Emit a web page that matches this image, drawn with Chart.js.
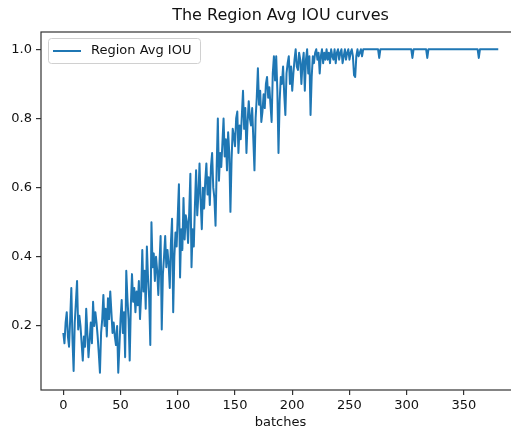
<!DOCTYPE html>
<html>
<head>
<meta charset="utf-8">
<script src="https://cdn.jsdelivr.net/npm/chart.js@4.4.0/dist/chart.umd.min.js"></script>
<style>
  html, body { margin: 0; padding: 0; background: #fff; overflow: hidden; }
  #wrap { width: 560px; height: 430px; }
</style>
</head>
<body>
<div id="wrap"><canvas id="c" width="560" height="430"></canvas></div>
<script>
// ---- data ----
const chartTitle = "The Region Avg IOU curves";
const seriesName = "Region Avg IOU";
const xAxisTitle = "batches";
const xTicks = [0, 50, 100, 150, 200, 250, 300, 350];
const yTicks = [0.2, 0.4, 0.6, 0.8, 1.0];

const iouValues = [
  0.18, 0.15, 0.21, 0.24, 0.17, 0.14, 0.22, 0.31, 0.16, 0.07,
  0.21, 0.27, 0.33, 0.19, 0.23, 0.20, 0.15, 0.10, 0.17, 0.14,
  0.25, 0.18, 0.11, 0.16, 0.21, 0.15, 0.27, 0.20, 0.24, 0.21,
  0.17, 0.12, 0.065, 0.18, 0.22, 0.29, 0.20, 0.25, 0.17, 0.28,
  0.22, 0.30, 0.24, 0.18, 0.21, 0.17, 0.145, 0.20, 0.065, 0.14,
  0.22, 0.275, 0.18, 0.24, 0.11, 0.36, 0.28, 0.22, 0.10, 0.26,
  0.35, 0.27, 0.31, 0.24, 0.30, 0.26, 0.33, 0.22, 0.29, 0.42,
  0.30, 0.36, 0.25, 0.43, 0.34, 0.28, 0.145, 0.50, 0.37, 0.41,
  0.33, 0.40, 0.36, 0.29, 0.38, 0.46, 0.19, 0.35, 0.40, 0.46,
  0.37, 0.42, 0.38, 0.31, 0.44, 0.51, 0.24, 0.40, 0.47, 0.43,
  0.52, 0.61, 0.34, 0.48, 0.42, 0.57, 0.45, 0.52, 0.50, 0.44,
  0.53, 0.64, 0.37, 0.48, 0.43, 0.55, 0.65, 0.52, 0.58, 0.67,
  0.56, 0.48, 0.60, 0.54, 0.62, 0.67, 0.58, 0.63, 0.55, 0.66,
  0.70, 0.60, 0.57, 0.49, 0.66, 0.80, 0.62, 0.70, 0.66, 0.73,
  0.80, 0.69, 0.74, 0.65, 0.76, 0.70, 0.53, 0.68, 0.77, 0.75,
  0.72, 0.80, 0.82, 0.70, 0.78, 0.74, 0.81, 0.88, 0.77, 0.83,
  0.70, 0.79, 0.85, 0.80, 0.78, 0.83, 0.74, 0.65, 0.80, 0.86,
  0.945, 0.84, 0.88, 0.79, 0.82, 0.87, 0.83, 0.90, 0.92, 0.86,
  0.89, 0.84, 0.79, 0.93, 0.98, 0.91, 0.98, 0.88, 0.70, 0.85,
  0.92, 0.90, 0.95, 0.87, 0.81, 0.93, 0.96, 0.98, 0.90, 0.95,
  0.88, 0.93, 0.97, 1.0, 0.95, 0.94, 0.99, 0.97, 0.90, 0.96,
  0.99, 0.88, 0.97, 1.0, 0.93, 0.98, 0.81, 0.92, 0.98, 0.96,
  0.99, 1.0, 0.97, 0.99, 0.93, 0.98, 1.0, 0.96, 0.99, 0.97,
  1.0, 0.97, 0.99, 0.96, 1.0, 0.98, 0.97, 1.0, 0.96, 0.99,
  1.0, 0.97, 0.99, 1.0, 0.96, 0.98, 1.0, 0.97, 0.99, 1.0,
  0.97, 0.99, 1.0, 0.98, 0.925, 0.92, 0.98, 1.0, 0.98, 0.99,
  1.0, 0.98, 1.0, 1.0, 1.0, 1.0, 1.0, 1.0, 1.0, 1.0,
  1.0, 1.0, 1.0, 1.0, 1.0, 1.0, 0.975, 1.0, 1.0, 1.0,
  1.0, 1.0, 1.0, 1.0, 1.0, 1.0, 1.0, 1.0, 1.0, 1.0,
  1.0, 1.0, 1.0, 1.0, 1.0, 1.0, 1.0, 1.0, 1.0, 1.0,
  1.0, 1.0, 1.0, 1.0, 1.0, 0.975, 1.0, 1.0, 1.0, 1.0,
  1.0, 1.0, 1.0, 1.0, 1.0, 1.0, 1.0, 1.0, 0.975, 1.0,
  1.0, 1.0, 1.0, 1.0, 1.0, 1.0, 1.0, 1.0, 1.0, 1.0,
  1.0, 1.0, 1.0, 1.0, 1.0, 1.0, 1.0, 1.0, 1.0, 1.0,
  1.0, 1.0, 1.0, 1.0, 1.0, 1.0, 1.0, 1.0, 1.0, 1.0,
  1.0, 1.0, 1.0, 1.0, 1.0, 1.0, 1.0, 1.0, 1.0, 1.0,
  1.0, 1.0, 1.0, 0.975, 1.0, 1.0, 1.0, 1.0, 1.0, 1.0,
  1.0, 1.0, 1.0, 1.0, 1.0, 1.0, 1.0, 1.0, 1.0, 1.0,
  1.0
];

// ---- chart ----
const FONT = "'DejaVu Sans', sans-serif";
const LINE_COLOR = '#1f77b4';
const AXIS_COLOR = '#333333';

const points = iouValues.map((v, i) => ({ x: i, y: v }));

const framePlugin = {
  id: 'frame',
  afterDraw(chart) {
    const { ctx, chartArea: a } = chart;
    ctx.save();
    // title centred over the axes
    ctx.fillStyle = '#111';
    ctx.font = '16px ' + FONT;
    ctx.textAlign = 'center';
    ctx.textBaseline = 'middle';
    ctx.fillText(chartTitle, (a.left + a.right) / 2, 15.5);
    // axes frame (four spines)
    ctx.strokeStyle = AXIS_COLOR;
    ctx.lineWidth = 1.2;
    ctx.strokeRect(a.left, a.top, a.right - a.left, a.bottom - a.top);
    // legend inside the axes (upper left)
    const bx = a.left + 7, by = a.top + 6, bw = 152, bh = 25;
    ctx.fillStyle = 'rgba(255,255,255,0.85)';
    ctx.strokeStyle = '#d0d0d0';
    ctx.lineWidth = 1;
    ctx.beginPath();
    if (ctx.roundRect) ctx.roundRect(bx + 0.5, by + 0.5, bw, bh, 3); else ctx.rect(bx + 0.5, by + 0.5, bw, bh);
    ctx.fill();
    ctx.stroke();
    const ly = by + bh / 2 + 0.5;
    ctx.strokeStyle = LINE_COLOR;
    ctx.lineWidth = 2;
    ctx.beginPath();
    ctx.moveTo(bx + 5, ly);
    ctx.lineTo(bx + 33, ly);
    ctx.stroke();
    ctx.fillStyle = '#111';
    ctx.font = '13px ' + FONT;
    ctx.textBaseline = 'middle';
    ctx.textAlign = 'left';
    ctx.fillText(seriesName, bx + 43, ly);
    ctx.restore();
  }
};

new Chart(document.getElementById('c'), {
  type: 'line',
  data: {
    datasets: [{
      label: seriesName,
      data: points,
      borderColor: LINE_COLOR,
      backgroundColor: LINE_COLOR,
      borderWidth: 2,
      pointRadius: 0,
      tension: 0,
      fill: false,
      borderJoinStyle: 'round'
    }]
  },
  options: {
    responsive: false,
    animation: false,
    devicePixelRatio: 1,
    layout: { padding: { left: 0, right: 40, top: 32, bottom: 0 } },
    plugins: {
      legend: { display: false },
      tooltip: { enabled: false },
      title: { display: false }
    },
    scales: {
      x: {
        type: 'linear',
        min: -19.5,
        max: 399,
        afterFit(s) { s.height = 40; },
        afterBuildTicks(s) { s.ticks = xTicks.map(v => ({ value: v })); },
        border: { display: false },
        grid: { display: true, drawOnChartArea: false, drawTicks: true, tickLength: 5, color: AXIS_COLOR, lineWidth: 1.2 },
        ticks: { color: '#111', font: { family: FONT, size: 13 }, padding: 3, maxRotation: 0, autoSkip: false,
                 callback: v => String(v) },
        title: { display: true, text: xAxisTitle, color: '#111', font: { family: FONT, size: 13 }, padding: { top: 0, bottom: 0 } }
      },
      y: {
        type: 'linear',
        min: 0.015,
        max: 1.05,
        afterFit(s) { s.width = 41; },
        afterBuildTicks(s) { s.ticks = yTicks.map(v => ({ value: v })); },
        border: { display: false },
        grid: { display: true, drawOnChartArea: false, drawTicks: true, tickLength: 5, color: AXIS_COLOR, lineWidth: 1.2 },
        ticks: { color: '#111', font: { family: FONT, size: 13 }, padding: 4, autoSkip: false,
                 callback: v => Number(v).toFixed(1) }
      }
    }
  },
  plugins: [framePlugin]
});
</script>
</body>
</html>
